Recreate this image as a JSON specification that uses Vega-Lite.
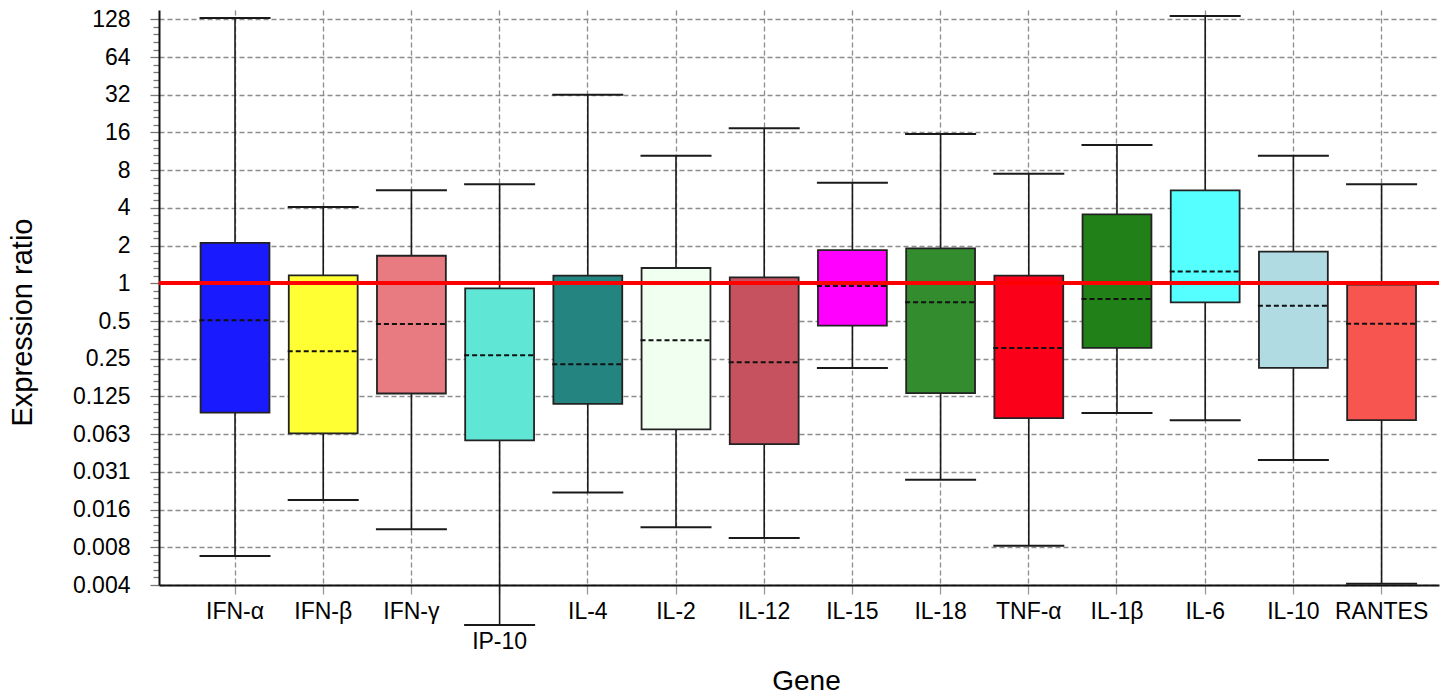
{
  "$schema": "https://vega.github.io/schema/vega-lite/v6.json",
  "width": 1280,
  "height": 575,
  "autosize": {"type": "none"},
  "padding": {"left": 159, "top": 10, "right": 7, "bottom": 111},
  "background": "white",
  "config": {
    "view": {"stroke": null},
    "font": "Liberation Sans"
  },
  "data": {
    "values": [
      {"gene": "IFN-α", "min": 0.00667, "q1": 0.0928, "median": 0.507, "q3": 2.10, "max": 131},
      {"gene": "IFN-β", "min": 0.0186, "q1": 0.0634, "median": 0.287, "q3": 1.157, "max": 4.06},
      {"gene": "IFN-γ", "min": 0.0109, "q1": 0.132, "median": 0.473, "q3": 1.66, "max": 5.53},
      {"gene": "IP-10", "min": 0.00187, "q1": 0.0558, "median": 0.266, "q3": 0.912, "max": 6.17},
      {"gene": "IL-4", "min": 0.0214, "q1": 0.109, "median": 0.226, "q3": 1.15, "max": 32.0},
      {"gene": "IL-2", "min": 0.0113, "q1": 0.0683, "median": 0.351, "q3": 1.325, "max": 10.44},
      {"gene": "IL-12", "min": 0.00925, "q1": 0.052, "median": 0.234, "q3": 1.117, "max": 17.27},
      {"gene": "IL-15", "min": 0.211, "q1": 0.459, "median": 0.952, "q3": 1.84, "max": 6.36},
      {"gene": "IL-18", "min": 0.027, "q1": 0.133, "median": 0.705, "q3": 1.90, "max": 15.55},
      {"gene": "TNF-α", "min": 0.00804, "q1": 0.0839, "median": 0.305, "q3": 1.15, "max": 7.50},
      {"gene": "IL-1β", "min": 0.0922, "q1": 0.305, "median": 0.75, "q3": 3.55, "max": 12.7},
      {"gene": "IL-6", "min": 0.0806, "q1": 0.705, "median": 1.24, "q3": 5.53, "max": 136},
      {"gene": "IL-10", "min": 0.0389, "q1": 0.211, "median": 0.663, "q3": 1.79, "max": 10.44},
      {"gene": "RANTES", "min": 0.00399, "q1": 0.081, "median": 0.476, "q3": 0.975, "max": 6.17}
    ]
  },
  "layer": [
    {
      "mark": {"type": "rule", "color": "#1a1a1a", "strokeWidth": 1.6},
      "encoding": {
        "x": {
          "field": "gene",
          "type": "nominal",
          "scale": {
            "type": "band",
            "domain": ["IFN-α", "IFN-β", "IFN-γ", "IP-10", "IL-4", "IL-2", "IL-12", "IL-15", "IL-18", "TNF-α", "IL-1β", "IL-6", "IL-10", "RANTES"],
            "paddingInner": 0.195,
            "paddingOuter": 0.354,
            "align": 0.649
          },
          "axis": {
            "title": "Gene",
            "titleFont": "Liberation Sans",
            "titleFontSize": 28,
            "titleFontWeight": "normal",
            "titleColor": "black",
            "titleX": 647,
            "titleY": 96,
            "titleAlign": "center",
            "titleBaseline": "middle",
            "labelAngle": 0,
            "labelFont": "Liberation Sans",
            "labelFontSize": 23,
            "labelColor": "black",
            "labelPadding": {"condition": {"test": "datum.value === 'IP-10'", "value": 36}, "value": 6},
            "domainColor": "#111",
            "domainWidth": 2,
            "tickColor": "#999",
            "tickSize": 9,
            "tickWidth": 1.3,
            "bandPosition": 0.5,
            "grid": true,
            "gridColor": "#8c8c8c",
            "gridDash": [5, 3],
            "gridWidth": 1.3
          }
        },
        "y": {
          "field": "min",
          "type": "quantitative",
          "scale": {"type": "log", "base": 2, "domain": [0.00390625, 152], "nice": false},
          "axis": {
            "title": "Expression ratio",
            "titleFont": "Liberation Sans",
            "titleFontSize": 29,
            "titleFontWeight": "normal",
            "titleColor": "black",
            "titleX": -137,
            "titleY": 312,
            "titleAlign": "center",
            "titleBaseline": "middle",
            "values": [0.00390625, 0.004487, 0.005154, 0.005921, 0.006801,
                       0.0078125, 0.008974, 0.010309, 0.011842, 0.013602,
                       0.015625, 0.017948, 0.020617, 0.023683, 0.027205,
                       0.03125, 0.035897, 0.041235, 0.047366, 0.054409,
                       0.0625, 0.071794, 0.082469, 0.094732, 0.108819,
                       0.125, 0.143587, 0.164939, 0.189465, 0.217638,
                       0.25, 0.287175, 0.329877, 0.378929, 0.435275,
                       0.5, 0.574349, 0.659754, 0.757858, 0.870551,
                       1, 1.148698, 1.319508, 1.515717, 1.741101,
                       2, 2.297397, 2.639016, 3.031433, 3.482202,
                       4, 4.594794, 5.278032, 6.062866, 6.964405,
                       8, 9.189587, 10.556063, 12.125733, 13.928809,
                       16, 18.379174, 21.112127, 24.251465, 27.857618,
                       32, 36.758347, 42.224253, 48.50293, 55.715236,
                       64, 73.516695, 84.448506, 97.00586, 111.430472,
                       128],
            "labelExpr": "abs(log(datum.value)/LN2 - round(log(datum.value)/LN2)) < 0.01 ? (datum.value < 0.1 ? format(datum.value, '.3f') : '' + datum.value) : ''",
            "labelFont": "Liberation Sans",
            "labelFontSize": 23,
            "labelColor": "black",
            "labelPadding": 20,
            "labelOverlap": false,
            "labelBound": false,
            "domainColor": "#111",
            "domainWidth": 2,
            "tickColor": "#777",
            "tickWidth": 1.3,
            "tickSize": {"condition": {"test": "abs(log(datum.value)/LN2 - round(log(datum.value)/LN2)) < 0.01", "value": 9}, "value": 6},
            "grid": true,
            "gridColor": "#8c8c8c",
            "gridDash": [5, 3],
            "gridWidth": 1.3,
            "gridOpacity": {"condition": {"test": "abs(log(datum.value)/LN2 - round(log(datum.value)/LN2)) < 0.01", "value": 1}, "value": 0}
          }
        },
        "y2": {"field": "max"}
      }
    },
    {
      "mark": {"type": "bar", "stroke": "#222", "strokeWidth": 1.8, "width": {"band": 0.97}},
      "encoding": {
        "x": {"field": "gene", "type": "nominal"},
        "y": {"field": "q1", "type": "quantitative"},
        "y2": {"field": "q3"},
        "fill": {
          "field": "gene",
          "type": "nominal",
          "legend": null,
          "scale": {
            "domain": ["IFN-α", "IFN-β", "IFN-γ", "IP-10", "IL-4", "IL-2", "IL-12", "IL-15", "IL-18", "TNF-α", "IL-1β", "IL-6", "IL-10", "RANTES"],
            "range": ["#1a1aff", "#ffff33", "#e87a82", "#5fe6d4", "#248480", "#f0fff0", "#c5525e", "#ff00ff", "#338c2e", "#fa0019", "#228018", "#55ffff", "#b0dbe3", "#f75550"]
          }
        }
      }
    },
    {
      "mark": {"type": "rule", "color": "#111", "strokeWidth": 2, "strokeDash": [5, 3]},
      "encoding": {
        "x": {"field": "gene", "type": "nominal", "bandPosition": 0},
        "x2": {"field": "gene", "bandPosition": 1},
        "y": {"field": "median", "type": "quantitative"}
      }
    },
    {
      "mark": {"type": "rule", "color": "#1a1a1a", "strokeWidth": 2},
      "encoding": {
        "x": {"field": "gene", "type": "nominal", "bandPosition": 0},
        "x2": {"field": "gene", "bandPosition": 1},
        "y": {"field": "max", "type": "quantitative"}
      }
    },
    {
      "mark": {"type": "rule", "color": "#1a1a1a", "strokeWidth": 2},
      "encoding": {
        "x": {"field": "gene", "type": "nominal", "bandPosition": 0},
        "x2": {"field": "gene", "bandPosition": 1},
        "y": {"field": "min", "type": "quantitative"}
      }
    },
    {
      "mark": {"type": "rule", "color": "#ff0000", "strokeWidth": 3},
      "encoding": {"y": {"datum": 1}}
    }
  ]
}
